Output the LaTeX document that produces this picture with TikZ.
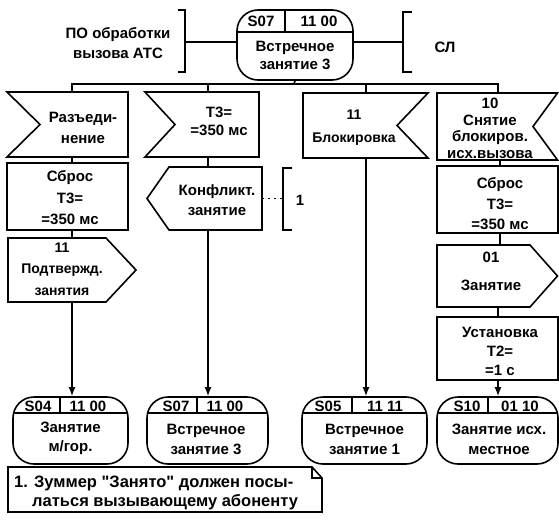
\documentclass[tikz,border=0pt]{standalone}
\usepackage{fontspec}
\setmainfont{Liberation Sans}[Ligatures=TeXOff]
\usetikzlibrary{arrows.meta}
\begin{document}
\begin{tikzpicture}[x=1pt,y=-1pt,
  ln/.style={line width=1.6pt},
  shp/.style={draw=black, line width=1.6pt, line join=miter},
  stt/.style={draw=black, line width=1.6pt, rounded corners=21pt, inner sep=0pt},
  boxn/.style={draw=black, line width=1.6pt, inner sep=0pt},
  lbl/.style={align=center, inner sep=0pt, font=\bfseries\fontsize{15}{20}\selectfont},
  arr/.style={line width=1.6pt, -{Latex[length=9pt,width=7pt]}},
]
\useasboundingbox (0,0) rectangle (559,524);

% ---------- top state ----------
\node[stt, minimum width=116pt, minimum height=70pt] (stop) at (295,45) {};
\draw[ln] (237,32) -- (353,32);
\draw[ln] (285,10) -- (285,32);
\node[lbl] (stopc) at (261,21) {S07};
\node[lbl] (stopn) at (319,21) {11 00};
\node[lbl, font=\bfseries\fontsize{15}{18}\selectfont] (stopt) at (295,55) {Встречное\\занятие 3};

% left bracket
\node[lbl] (po) at (118,43) {ПО обработки\\вызова АТС};
\draw[ln] (178,10) -- (185,10) -- (185,72) -- (178,72);
\coordinate (lb) at (185,42);
\draw[ln] (lb) -- (lb -| stop.west);
% right bracket
\draw[ln] (412,12) -- (403,12) -- (403,72) -- (412,72);
\coordinate (rb) at (403,42);
\draw[ln] (rb -| stop.east) -- (rb);
\node[lbl] (sl) at (445,47) {СЛ};

% bus
\coordinate (bus) at (294,84);
\draw[ln] (stop.south) -- (bus);
\draw[ln] (72,92) -- (72,84) -- (498,84) -- (498,93);
\draw[ln] (208,84) -- (208,92);
\draw[ln] (366,84) -- (366,93);

% ---------- row 1 ----------
\draw[shp] (7,92) -- (128,92) -- (128,157) -- (7,157) -- (40,124.5) -- cycle;
\node[lbl, font=\bfseries\fontsize{15}{21}\selectfont] (razed) at (83,127.5) {Разъеди-\\нение};

\draw[shp] (145,92) -- (259,92) -- (259,157) -- (145,157) -- (175,124.5) -- cycle;
\node[lbl, font=\bfseries\fontsize{15}{18}\selectfont] (t3a) at (219,121) {Т3=\\=350 мс};

\draw[shp] (303,93) -- (428,93) -- (397,125.5) -- (428,158) -- (303,158) -- cycle;
\node[lbl, font=\bfseries\fontsize{14}{23}\selectfont] (blok) at (354,128) {11\\Блокировка};

\draw[shp] (437,93) -- (557.5,93) -- (533,126.5) -- (557.5,160) -- (437,160) -- cycle;
\node[lbl, font=\bfseries\fontsize{15}{16.5}\selectfont] (snyat) at (490,128.5) {10\\Снятие\\блокиров.\\исх.вызова};

% ---------- row 2 ----------
\node[boxn, minimum width=121pt, minimum height=67pt] (sbros1) at (67.5,196.5) {};
\node[lbl, font=\bfseries\fontsize{15}{21.5}\selectfont] (sbros1t) at (70,198) {Сброс\\Т3=\\=350 мс};
\draw[ln] (72,157) -- (72,163);

\draw[ln] (208,157) -- (208,167);
\draw[shp] (262,167) -- (262,230) -- (169,230) -- (147,198.5) -- (169,167) -- cycle;
\node[lbl, font=\bfseries\fontsize{15}{20}\selectfont] (konf) at (217,200) {Конфликт.\\занятие};
\draw[ln] (292,168) -- (283,168) -- (283,230) -- (292,230);
\coordinate (kb) at (283,198.5);
\draw[line width=0.6pt, dash pattern=on 2pt off 4pt] (262,198.5) -- (kb);
\node[lbl] (one) at (300,200) {1};

\draw[ln] (500,160) -- (500,166);
\node[boxn, minimum width=121pt, minimum height=67pt] (sbros4) at (497.5,199.5) {};
\node[lbl, font=\bfseries\fontsize{15}{20.5}\selectfont] (sbros4t) at (500,204) {Сброс\\Т3=\\=350 мс};

% ---------- row 3 ----------
\draw[ln] (72,230) -- (72,238);
\draw[shp] (8,238) -- (106,238) -- (136,270) -- (106,302) -- (8,302) -- cycle;
\node[lbl, font=\bfseries\fontsize{14}{21.5}\selectfont] (podtv) at (62,269) {11\\Подтвержд.\\занятия};

\draw[ln] (500,233) -- (500,245);
\draw[shp] (437,245) -- (530,245) -- (557.5,276) -- (530,307) -- (437,307) -- cycle;
\node[lbl, font=\bfseries\fontsize{15}{28}\selectfont] (zan) at (491,271) {01\\Занятие};

\draw[ln] (498,307) -- (498,317);
\node[boxn, minimum width=121pt, minimum height=63pt] (ustan) at (497.5,348.5) {};
\node[lbl, font=\bfseries\fontsize{15}{19}\selectfont] (ustant) at (500,351) {Установка\\Т2=\\=1 с};

% ---------- bottom states ----------
\node[stt, minimum width=115pt, minimum height=67pt] (s04) at (70.5,430.5) {};
\draw[ln] (13,413) -- (128,413);
\draw[ln] (60,397) -- (60,413);
\node[lbl] (s04c) at (38,406) {S04};
\node[lbl] (s04n) at (88,406) {11 00};
\node[lbl, font=\bfseries\fontsize{15}{19}\selectfont] (s04t) at (70.5,438) {Занятие\\м/гор.};

\node[stt, minimum width=121pt, minimum height=67pt] (s07b) at (207.5,430.5) {};
\draw[ln] (147,413) -- (268,413);
\draw[ln] (197,397) -- (197,413);
\node[lbl] (s07bc) at (176,406) {S07};
\node[lbl] (s07bn) at (225,406) {11 00};
\node[lbl, font=\bfseries\fontsize{15}{20}\selectfont] (s07bt) at (206,439) {Встречное\\занятие 3};

\node[stt, minimum width=125pt, minimum height=67pt] (s05) at (364.5,430.5) {};
\draw[ln] (302,413) -- (427,413);
\draw[ln] (352,397) -- (352,413);
\node[lbl] (s05c) at (328,406) {S05};
\node[lbl] (s05n) at (385,406) {11 11};
\node[lbl, font=\bfseries\fontsize{15}{20}\selectfont] (s05t) at (364.5,439) {Встречное\\занятие 1};

\node[stt, minimum width=121pt, minimum height=67pt] (s10) at (497.5,430.5) {};
\draw[ln] (437,413) -- (558,413);
\draw[ln] (488,397) -- (488,413);
\node[lbl] (s10c) at (467,406) {S10};
\node[lbl] (s10n) at (520,406) {01 10};
\node[lbl, font=\bfseries\fontsize{15}{20}\selectfont] (s10t) at (499,439) {Занятие исх.\\местное};

% arrows
\coordinate (a1) at (72,302);
\draw[arr] (a1) -- (a1 |- s04.north);
\coordinate (a2) at (208,230);
\draw[arr] (a2) -- (a2 |- s07b.north);
\coordinate (a3) at (366,158);
\draw[arr] (a3) -- (a3 |- s05.north);
\coordinate (a4) at (498,380);
\draw[arr] (a4) -- (a4 |- s10.north);

% ---------- note ----------
\draw[ln] (8,467) -- (312,467) -- (322,478) -- (322,512) -- (8,512) -- cycle;
\draw[ln] (312,467) -- (312,478) -- (322,478);
\node[lbl, anchor=base west, font=\bfseries\fontsize{16.5}{20}\selectfont] (n1) at (14,487) {1. Зуммер "Занято" должен посы-};
\node[lbl, anchor=base west, font=\bfseries\fontsize{16.5}{20}\selectfont] (n2) at (32,506) {латься вызывающему абоненту};
\end{tikzpicture}
\end{document}
